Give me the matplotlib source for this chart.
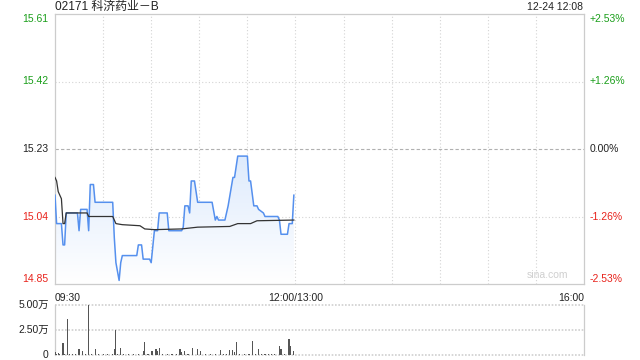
import numpy as np
import matplotlib.pyplot as plt
from matplotlib.patches import Polygon

plt.rcParams['font.family'] = ['Liberation Sans', 'Noto Sans CJK SC', 'DejaVu Sans']

title = '02171 科济药业－B'
stamp = '12-24 12:08'
prev_close = 15.23

# minutes after 09:30, lunch break removed (12:00 -> 150, 16:00 -> 330)
price_min = [0, 1, 4, 5, 6, 7, 14, 15, 16, 20, 21, 22, 24, 25, 36, 37, 38, 40, 41, 42,
             51, 52, 54, 55, 59, 60, 62, 64, 65, 70, 71, 79, 80, 81, 83, 84, 85, 87, 89,
             98, 100, 101, 102, 106, 108, 111, 112, 114, 120, 121, 122, 124, 126, 127,
             130, 131, 139, 140, 141, 145, 146, 148, 149]
price = [15.10, 15.02, 15.02, 14.96, 14.96, 15.05, 15.05, 15.00, 15.06, 15.06, 15.00,
         15.13, 15.13, 15.08, 15.08, 14.98, 14.91, 14.86, 14.91, 14.93, 14.93, 14.96,
         14.96, 14.92, 14.92, 14.91, 15.00, 15.00, 15.05, 15.05, 15.00, 15.00, 15.01,
         15.07, 15.07, 15.05, 15.14, 15.14, 15.08, 15.08, 15.03, 15.04, 15.03, 15.03,
         15.07, 15.15, 15.15, 15.21, 15.21, 15.14, 15.14, 15.07, 15.07, 15.06, 15.05,
         15.04, 15.04, 15.03, 14.99, 14.99, 15.02, 15.02, 15.10]

avg_min = [0, 1, 2, 3, 4, 5, 6, 7, 20, 21, 24, 36, 38, 42, 53, 56, 62, 79, 89, 109,
           114, 122, 126, 149]
avg_price = [15.15, 15.14, 15.11, 15.10, 15.09, 15.02, 15.02, 15.05, 15.05, 15.04,
             15.04, 15.04, 15.02, 15.017, 15.014, 15.005, 15.003, 15.005, 15.010,
             15.012, 15.020, 15.020, 15.028, 15.030]

vol_min = [0, 1, 2, 3, 5, 6, 8, 9, 11, 13, 15, 17, 19, 21, 23, 25, 27, 30, 33, 36, 37,
           38, 39, 41, 43, 46, 49, 52, 55, 56, 58, 60, 61, 63, 64, 65, 67, 70, 73, 76,
           78, 79, 81, 83, 86, 89, 91, 94, 97, 100, 103, 105, 107, 109, 111, 112, 113,
           115, 118, 121, 123, 125, 127, 129, 131, 133, 135, 137, 140, 141, 143, 146,
           147, 149]
volume = [2700, 1200, 1700, 1000, 11900, 1200, 35700, 1000, 1300, 1000, 6100, 4100,
          1200, 51000, 1000, 6100, 1300, 1000, 1200, 1000, 6100, 25500, 1300, 7500,
          1200, 1000, 1300, 1100, 4400, 12600, 1000, 4400, 4400, 6100, 4400, 7500,
          1200, 1000, 1300, 1000, 6100, 3400, 4100, 1200, 7500, 6100, 4100, 1000,
          1200, 1000, 5100, 1200, 1000, 5100, 5100, 3400, 12600, 1300, 1000, 1200,
          13600, 1000, 6100, 1300, 1000, 1200, 1000, 1300, 9200, 6100, 1200, 16300,
          9200, 4400]

y_ticks = [15.61, 15.42, 15.23, 15.04, 14.85]
pct_labels = ['+2.53%', '+1.26%', '0.00%', '-1.26%', '-2.53%']
x_labels = ['09:30', '12:00/13:00', '16:00']
vol_labels = ['5.00万', '2.50万', '0']

green = '#1a9e1a'
red = '#e8221b'
grid_c = '#d4d4d4'

fig = plt.figure(figsize=(6.4, 3.6), dpi=100)
ax = fig.add_axes([55/640, 1-284/360, 529/640, 270/360])
axv = fig.add_axes([55/640, 1-355/360, 529/640, 50/360])

ax.set_xlim(0, 330)
ax.set_ylim(y_ticks[-1], y_ticks[0])

# gradient fill under the price line, light blue near the line, white at the bottom
verts = list(zip(price_min, price)) + [(price_min[-1], y_ticks[-1]), (price_min[0], y_ticks[-1])]
poly = Polygon(verts, closed=True, facecolor='none', edgecolor='none')
ax.add_patch(poly)
grad = np.linspace(0, 1, 256)
cols = np.ones((256, 1, 4))
top_c = np.array([0.87, 0.92, 0.99])
for k in range(3):
    cols[:, 0, k] = 1 - (1 - top_c[k]) * grad
im = ax.imshow(cols, extent=[0, 330, y_ticks[-1], max(price)], aspect='auto',
               origin='lower', zorder=1)
im.set_clip_path(poly)

for t in range(30, 330, 30):
    ax.axvline(t, color=grid_c, lw=0.8, ls=(0, (1, 2)), zorder=0)
for v in [15.42, 15.04]:
    ax.axhline(v, color=grid_c, lw=0.8, ls=(0, (1, 2)), zorder=0)
ax.axhline(prev_close, color='#b0b0b0', lw=0.8, ls=(0, (3, 2)), zorder=0)

ax.plot(price_min, price, color='#5590ee', lw=1.1, zorder=3)
ax.plot(avg_min, avg_price, color='#333333', lw=0.9, zorder=4)

ax.set_xticks([])
ax.set_yticks([])
for s in ax.spines.values():
    s.set_color('#cccccc')
    s.set_linewidth(0.9)

lab_cols = [green, green, '#222222', red, red]
for i, v in enumerate(y_ticks):
    va = 'center'
    if i == 0:
        va = 'top'
    if i == len(y_ticks) - 1:
        va = 'bottom'
    ax.text(-0.012, v, '%.2f' % v, transform=ax.get_yaxis_transform(), ha='right',
            va=va, fontsize=7.5, color=lab_cols[i])
    ax.text(1.011, v, pct_labels[i], transform=ax.get_yaxis_transform(), ha='left',
            va=va, fontsize=7.5, color=lab_cols[i])

ax.text(0.93, 0.035, 'sina.com', transform=ax.transAxes, ha='center', va='center',
        fontsize=7.5, color='#cfcfcf')

ax.text(0, -0.035, x_labels[0], transform=ax.transAxes, ha='left', va='top', fontsize=7.5, color='#222222')
ax.text(150/330, -0.035, x_labels[1], transform=ax.transAxes, ha='center', va='top', fontsize=7.5, color='#222222')
ax.text(1, -0.035, x_labels[2], transform=ax.transAxes, ha='right', va='top', fontsize=7.5, color='#222222')

fig.text(55/640, 1-7/360, title, ha='left', va='center', fontsize=8.6, color='#222222')
fig.text(583/640, 1-7/360, stamp, ha='right', va='center', fontsize=7.5, color='#222222')

# volume panel
axv.set_xlim(0, 330)
axv.set_ylim(0, 50000)
axv.bar(vol_min, volume, width=0.7, color='#555555', zorder=3)
for v in [0, 25000, 50000]:
    axv.axhline(v, color='#cfcfcf', lw=1.2, ls=(0, (1, 1)), zorder=1, clip_on=False)
axv.set_xticks([])
axv.set_yticks([])
for k in ['top', 'bottom']:
    axv.spines[k].set_visible(False)
for k in ['left', 'right']:
    axv.spines[k].set_color('#cccccc')
    axv.spines[k].set_linewidth(0.9)
for v, lab in zip([50000, 25000, 0], vol_labels):
    axv.text(-0.012, v, lab, transform=axv.get_yaxis_transform(), ha='right',
             va='center', fontsize=7.5, color='#222222')

plt.savefig('out.png', dpi=100)
